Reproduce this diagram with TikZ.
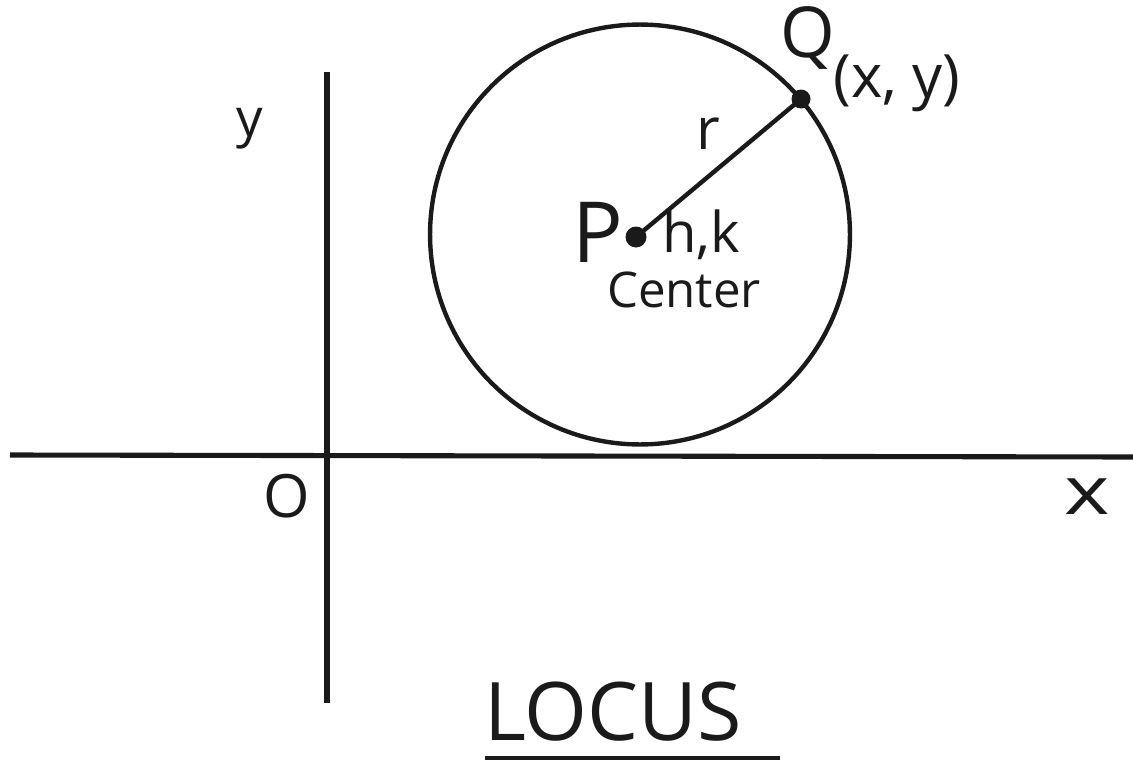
\documentclass[tikz,border=0pt]{standalone}
\usepackage{fontspec}
\setmainfont{Open Sans}
\definecolor{ink}{HTML}{1A1A1A}
\begin{document}
\begin{tikzpicture}[x=0.02cm,y=-0.02cm,
  axis/.style={draw=ink,line width=2.9pt},
  curve/.style={draw=ink,line width=2.5pt},
  lbl/.style={text=ink,inner sep=0pt},
  pt/.style={circle,fill=ink,inner sep=0pt,minimum size=#1}]
\useasboundingbox (0,0) rectangle (1133,761);
% axes
\coordinate (ytop) at (327,72);
\coordinate (ybot) at (327,703);
\coordinate (xl) at (10,455);
\coordinate (xr) at (1133,457);
\draw[axis] (ytop) -- (ybot);
\draw[axis] (xl) -- (xr);
% circle
\coordinate (C) at (640,234.5);
\draw[curve] (C) circle [radius=4.2cm];
% points
\node[pt=0.42cm] (P) at (636,237) {};
\node[pt=0.38cm] (Q) at (801,99) {};
\draw[curve] (P.center) -- (Q.center);
% labels
\node[lbl,font=\fontsize{30}{30}\selectfont] (ylab) at (250,129) {y};
\node[lbl,font=\fontsize{34}{34}\selectfont] (olab) at (287,496) {O};
\node[lbl,font=\fontsize{38}{38}\selectfont,xscale=1.3] (xlab) at (1087,497) {x};
\node[lbl,font=\fontsize{33}{33}\selectfont] (rlab) at (708,134) {r};
\node[lbl,font=\fontsize{48}{48}\selectfont] (plab) at (598,232) {P};
\node[lbl,font=\fontsize{32}{32}\selectfont,anchor=base west] (hk) at (662,252) {h,k};
\node[lbl,font=\fontsize{28}{28}\selectfont] (cen) at (684,290) {Center};
\node[lbl,font=\fontsize{40}{40}\selectfont] (qlab) at (808,38) {Q};
\node[lbl,font=\fontsize{34}{34}\selectfont] (qxy) at (897,83) {(x, y)};
\node[lbl,font=\fontsize{46}{46}\selectfont] (locus) at (613,712) {LOCUS};
\coordinate (ul) at (485,758);
\coordinate (ur) at (780,758);
\draw[curve] (ul) -- (ur);
\end{tikzpicture}
\end{document}
